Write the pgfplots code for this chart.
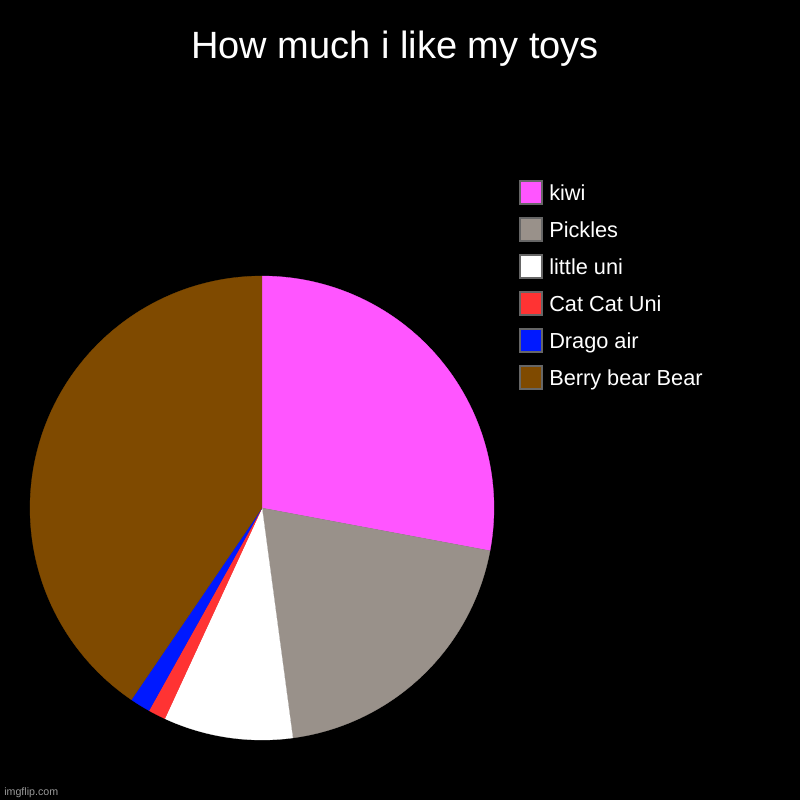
\documentclass[border=0pt]{standalone}
\usepackage{fontspec}
\setmainfont{Liberation Sans}
\usepackage{pgfplots}
\pgfplotsset{compat=1.18}
\usepgfplotslibrary{polar}

\definecolor{kiwi}{HTML}{FF55FF}
\definecolor{pickles}{HTML}{99918A}
\definecolor{uni}{HTML}{FFFFFF}
\definecolor{catcat}{HTML}{FF3333}
\definecolor{drago}{HTML}{0019FF}
\definecolor{berry}{HTML}{7F4A00}
\definecolor{swatch}{HTML}{666666}

% shares in percent, clockwise from 12 o'clock
\def\vKiwi{27.95}
\def\vPickles{19.93}
\def\vUni{9.00}
\def\vCat{1.22}
\def\vDrago{1.42}
\def\vBerry{40.48}

% slice borders as angles
\pgfmathsetmacro\aA{90}
\pgfmathsetmacro\aB{\aA-3.6*\vKiwi}
\pgfmathsetmacro\aC{\aB-3.6*\vPickles}
\pgfmathsetmacro\aD{\aC-3.6*\vUni}
\pgfmathsetmacro\aE{\aD-3.6*\vCat}
\pgfmathsetmacro\aF{\aE-3.6*\vDrago}
\pgfmathsetmacro\aG{\aF-3.6*\vBerry}

\begin{document}
\begin{tikzpicture}
\begin{scope}[x=0.75pt,y=0.75pt]
\useasboundingbox (0,0) rectangle (800,800);
\fill[black] (0,0) rectangle (800,800);

\node[anchor=base, white, font=\fontsize{28.5}{32}\selectfont, inner sep=0pt] at (395,741) {How much i like my toys};

\foreach \lab/\col [count=\i] in {kiwi/kiwi, Pickles/pickles, little uni/uni, Cat Cat Uni/catcat, Drago air/drago, Berry bear Bear/berry}{
  \pgfmathsetmacro\yc{800-192.5-37*(\i-1)}
  \draw[swatch, line width=1.5pt, fill=\col] (519.5,\yc-11.5) rectangle (541.5,\yc+11.5);
  \node[anchor=base west, white, font=\fontsize{16.3}{19}\selectfont, inner sep=0pt] at (549,\yc-8) {\lab};
}

\node[anchor=base west, gray!80, font=\fontsize{8}{9}\selectfont, inner sep=0pt] at (4,4) {imgflip.com};
\end{scope}

\begin{polaraxis}[
    at={(196.5pt,219pt)}, anchor=center,
    hide axis, scale only axis,
    width=348pt, height=348pt,
    xmin=0, xmax=360, ymin=0, ymax=1,
    clip=false,
    every axis plot/.append style={line width=0.2pt, samples=120},
]
\addplot[fill=kiwi, draw=kiwi, domain=\aB:\aA] {1} -- (axis cs:0,0) -- cycle;
\addplot[fill=pickles, draw=pickles, domain=\aC:\aB] {1} -- (axis cs:0,0) -- cycle;
\addplot[fill=uni, draw=uni, domain=\aD:\aC] {1} -- (axis cs:0,0) -- cycle;
\addplot[fill=catcat, draw=catcat, domain=\aE:\aD, samples=20] {1} -- (axis cs:0,0) -- cycle;
\addplot[fill=drago, draw=drago, domain=\aF:\aE, samples=20] {1} -- (axis cs:0,0) -- cycle;
\addplot[fill=berry, draw=berry, domain=\aG:\aF] {1} -- (axis cs:0,0) -- cycle;
\end{polaraxis}
\end{tikzpicture}
\end{document}
